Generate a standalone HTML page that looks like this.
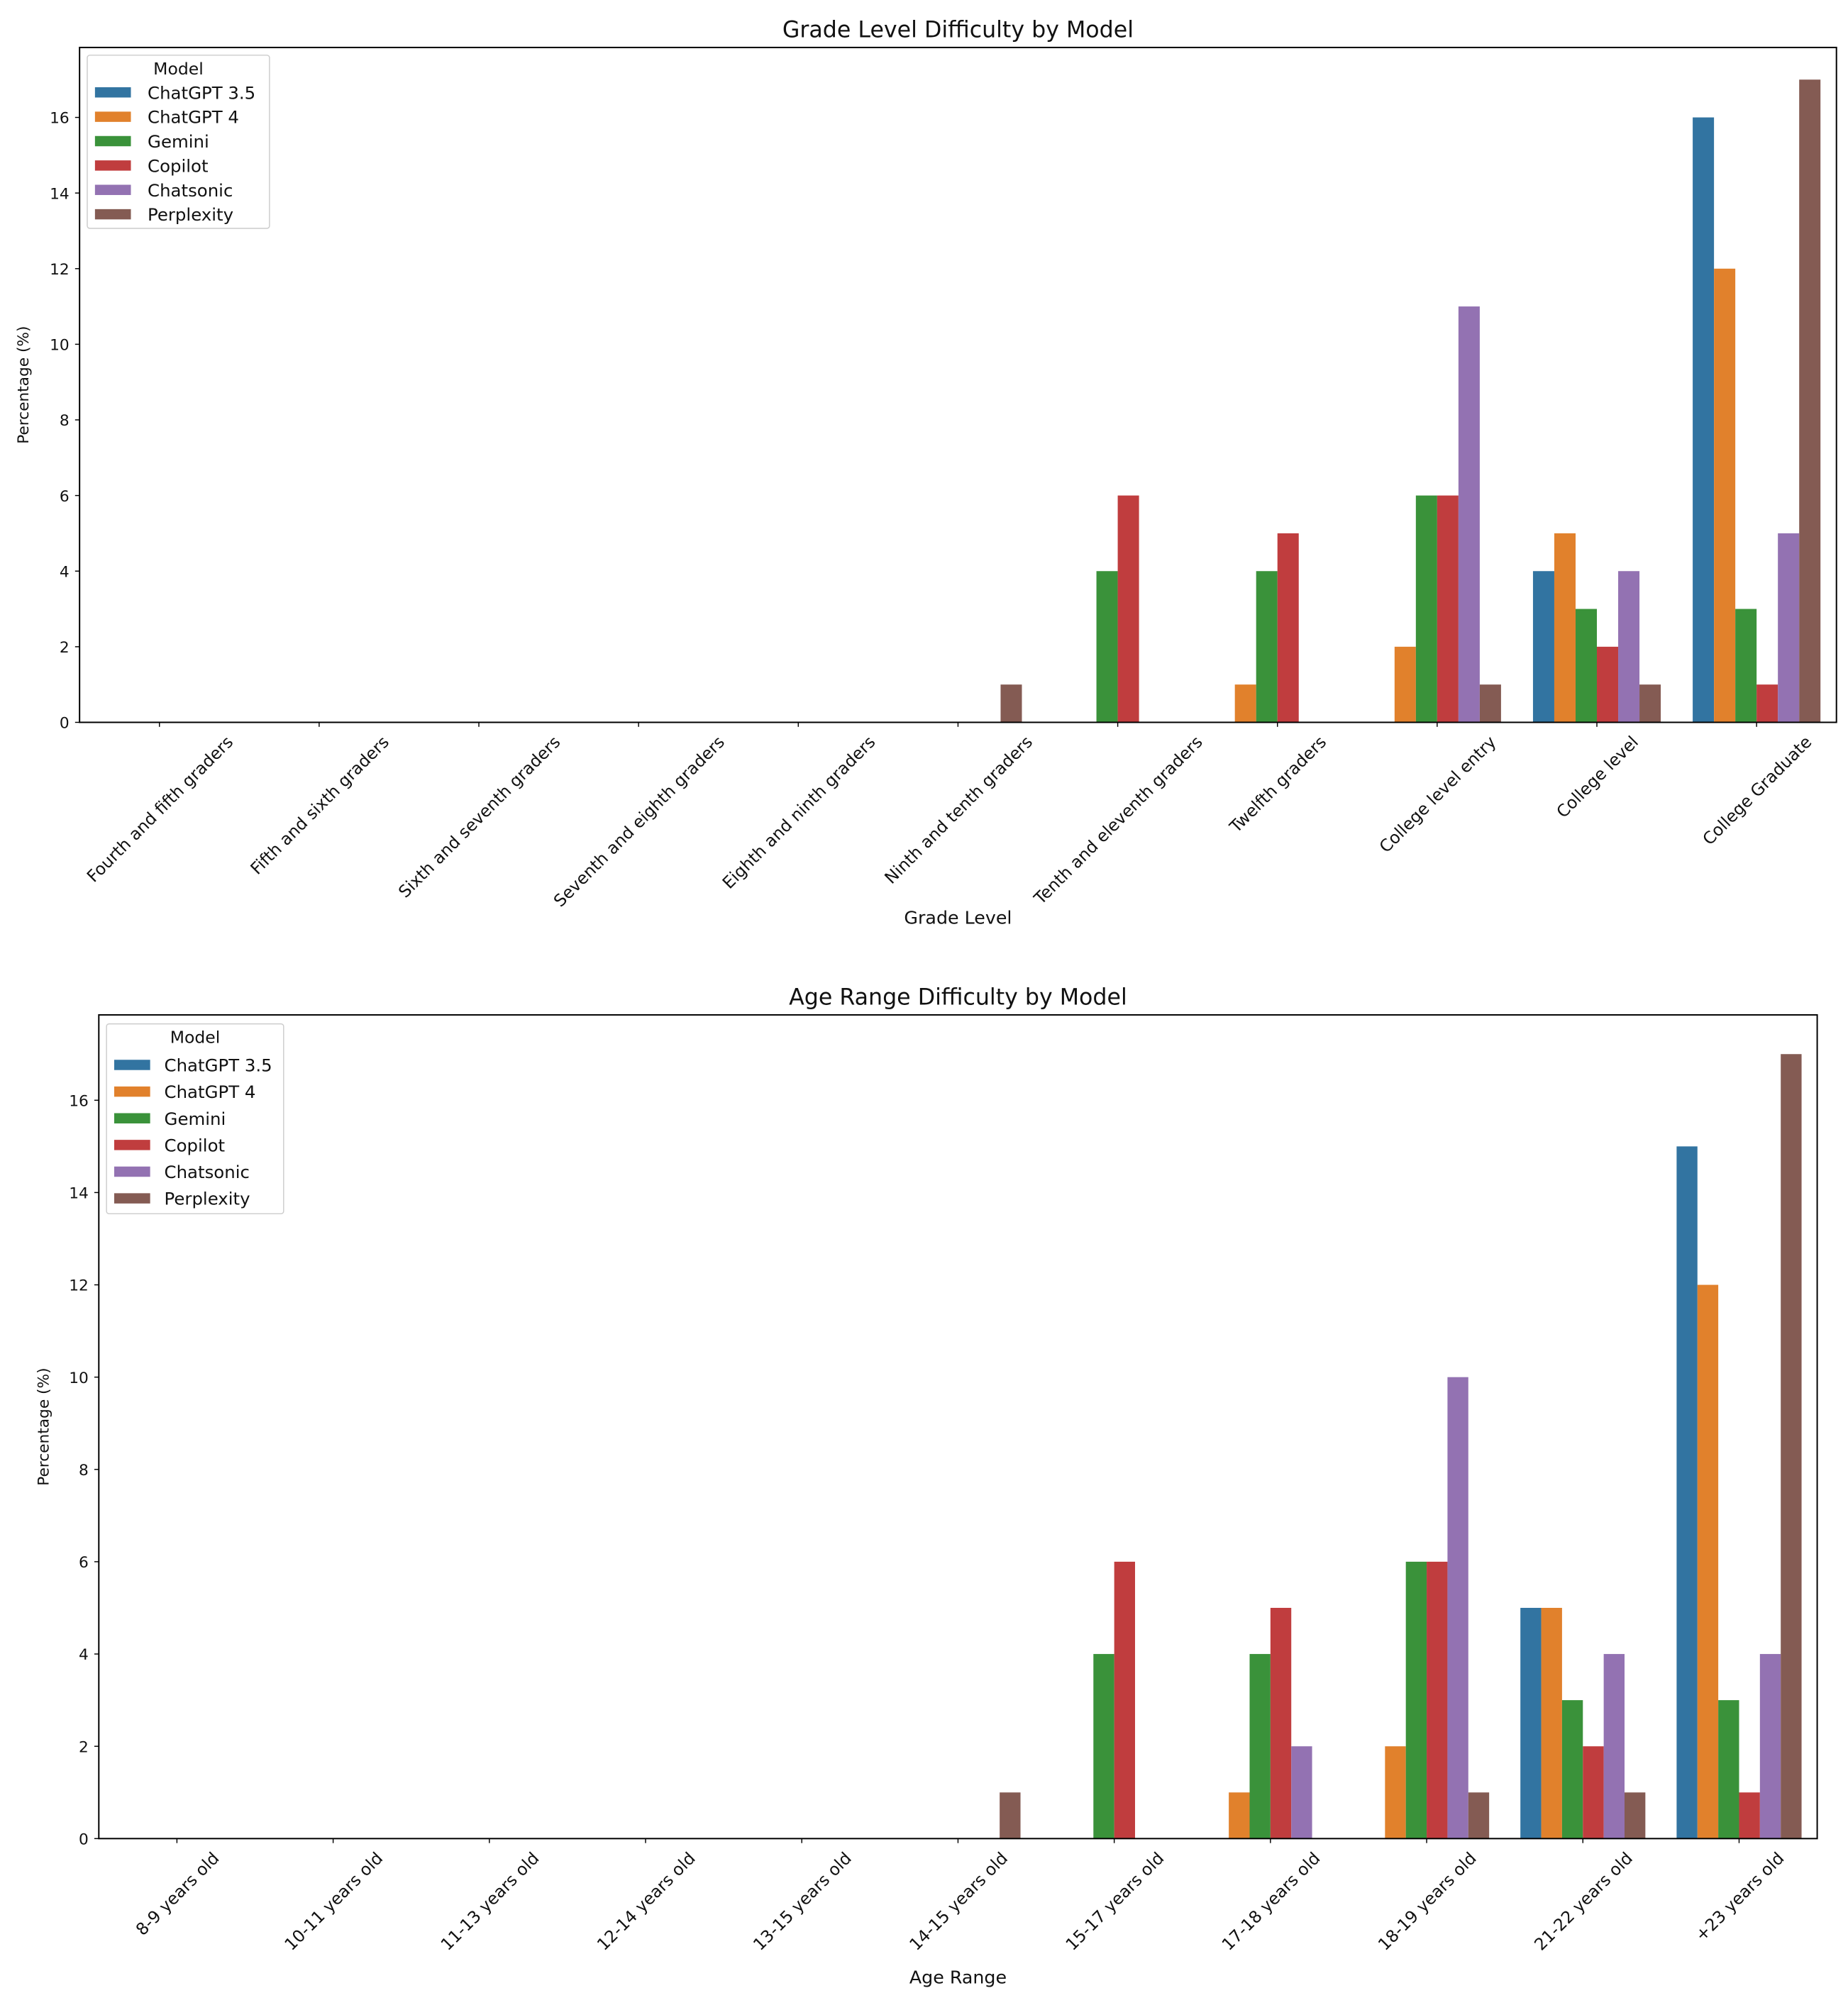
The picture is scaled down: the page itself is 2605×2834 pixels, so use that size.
<!DOCTYPE html>
<html><head><meta charset="utf-8"><style>
html,body{margin:0;padding:0;background:#fff;}
svg{display:block;font-family:"DejaVu Sans","Liberation Sans",sans-serif;}
</style></head><body>
<svg id="fig" width="2605" height="2834" viewBox="0 0 1440 1566.6" preserveAspectRatio="none" xmlns="http://www.w3.org/2000/svg"></svg>
<script>
const models = ["ChatGPT 3.5","ChatGPT 4","Gemini","Copilot","Chatsonic","Perplexity"];
const colors = ["#3274a1","#e1812c","#3a923a","#c03d3e","#9372b2","#845b53"];
const yTicks = [0,2,4,6,8,10,12,14,16];
const yMax = 17.85;

const gradeCats = ["Fourth and fifth graders","Fifth and sixth graders","Sixth and seventh graders","Seventh and eighth graders","Eighth and ninth graders","Ninth and tenth graders","Tenth and eleventh graders","Twelfth graders","College level entry","College level","College Graduate"];
const gradeGPT35 = [0,0,0,0,0,0,0,0,0,4,16];
const gradeGPT4 = [0,0,0,0,0,0,0,1,2,5,12];
const gradeGemini = [0,0,0,0,0,0,4,4,6,3,3];
const gradeCopilot = [0,0,0,0,0,0,6,5,6,2,1];
const gradeChatsonic = [0,0,0,0,0,0,0,0,11,4,5];
const gradePerplexity = [0,0,0,0,0,1,0,0,1,1,17];

const ageCats = ["8-9 years old","10-11 years old","11-13 years old","12-14 years old","13-15 years old","14-15 years old","15-17 years old","17-18 years old","18-19 years old","21-22 years old","+23 years old"];
const ageGPT35 = [0,0,0,0,0,0,0,0,0,5,15];
const ageGPT4 = [0,0,0,0,0,0,0,1,2,5,12];
const ageGemini = [0,0,0,0,0,0,4,4,6,3,3];
const ageCopilot = [0,0,0,0,0,0,6,5,6,2,1];
const ageChatsonic = [0,0,0,0,0,0,0,2,10,4,4];
const agePerplexity = [0,0,0,0,0,1,0,0,1,1,17];

const NS = "http://www.w3.org/2000/svg";
const svg = document.getElementById("fig");
function mk(tag, attrs, parent){const e=document.createElementNS(NS,tag);for(const k in attrs)e.setAttribute(k,attrs[k]);(parent||svg).appendChild(e);return e;}

function drawChart(o){
  const g = mk("g",{});
  
  
  const n = o.cats.length;
  const xS = i => o.L + (i + 0.5) * (o.R - o.L) / n;
  const yS = v => o.B - v / yMax * (o.B - o.T);
  const step = (o.R - o.L) / n, bw = step * 0.8 / 6;
  o.series.forEach((vals, s) => {
    vals.forEach((v, i) => {
      if (v <= 0) return;
      const x = xS(i) - step * 0.4 + s * bw;
      const r = mk("rect",{x:x,y:yS(v),width:bw,height:yS(0)-yS(v),fill:colors[s]},g);
      
      
    });
  });
  const fr = mk("rect",{x:o.L,y:o.T,width:o.R-o.L,height:o.B-o.T,fill:"none",stroke:"#000","stroke-width":1.1},g);
  
  
  yTicks.forEach(t => {
    mk("line",{x1:o.L-3.5,x2:o.L,y1:yS(t),y2:yS(t),stroke:"#000","stroke-width":0.8},g);
    const tx = mk("text",{x:o.L-8,y:yS(t)+4.5,"text-anchor":"end","font-size":12,fill:"#111"},g);
    tx.textContent = t;
    
    
  });
  o.cats.forEach((c, i) => {
    mk("line",{x1:xS(i),x2:xS(i),y1:o.B,y2:o.B+3.5,stroke:"#000","stroke-width":0.8},g);
    const tx = mk("text",{x:0,y:0,"text-anchor":"middle","font-size":13,fill:"#111"},g);
    tx.textContent = c;
    
    
    const len = tx.getComputedTextLength();
    const h = (len + 13) * 0.7071 / 2;
    tx.setAttribute("transform","translate(" + xS(i) + "," + (o.B + 8 + h) + ") rotate(-45) translate(0,5)");
  });
  const tt = mk("text",{x:(o.L+o.R)/2,y:o.T-8,"text-anchor":"middle","font-size":17.5,fill:"#111"},g);
  tt.textContent = o.title;
  
  
  const xl = mk("text",{x:(o.L+o.R)/2,y:o.xlY,"text-anchor":"middle","font-size":14,fill:"#111"},g);
  xl.textContent = o.xlabel;
  
  
  const yl = mk("text",{x:0,y:0,"text-anchor":"middle","font-size":12,fill:"#111",transform:"translate(" + o.ylX + "," + ((o.T+o.B)/2) + ") rotate(-90)"},g);
  yl.textContent = "Percentage (%)";
  
  
  const lg = mk("g",{},g);
  
  
  mk("rect",{x:o.lg.x,y:o.lg.y,width:o.lg.w,height:o.lg.h,fill:"#fff",stroke:"#ccc","stroke-width":0.8,rx:2},lg);
  const lt = mk("text",{x:o.lg.x+o.lg.w/2,y:o.lg.y+15,"text-anchor":"middle","font-size":13,fill:"#111"},lg);
  lt.textContent = "Model";
  
  
  models.forEach((m, s) => {
    const cy = o.lg.y0 + s * o.lg.dy;
    const e = mk("g",{},lg);
    
    
    mk("rect",{x:o.lg.x+6,y:cy-4,width:28,height:8,fill:colors[s]},e);
    const et = mk("text",{x:o.lg.tx,y:cy+5,"font-size":13.5,fill:"#111"},e);
    et.textContent = m;
  });
}

drawChart({name:"grade-level-chart",cats:gradeCats,
  series:[gradeGPT35,gradeGPT4,gradeGemini,gradeCopilot,gradeChatsonic,gradePerplexity],
  L:62,R:1431,T:37,B:563,title:"Grade Level Difficulty by Model",xlabel:"Grade Level",xlY:720,ylX:22,
  lg:{x:68,y:43,w:142,h:135,y0:72,dy:19,tx:115}});
drawChart({name:"age-range-chart",cats:ageCats,
  series:[ageGPT35,ageGPT4,ageGemini,ageCopilot,ageChatsonic,agePerplexity],
  L:77,R:1416,T:791,B:1433,title:"Age Range Difficulty by Model",xlabel:"Age Range",xlY:1546,ylX:38,
  lg:{x:83,y:798,w:138,h:148,y0:830,dy:20.8,tx:128}});
</script>
</body></html>
